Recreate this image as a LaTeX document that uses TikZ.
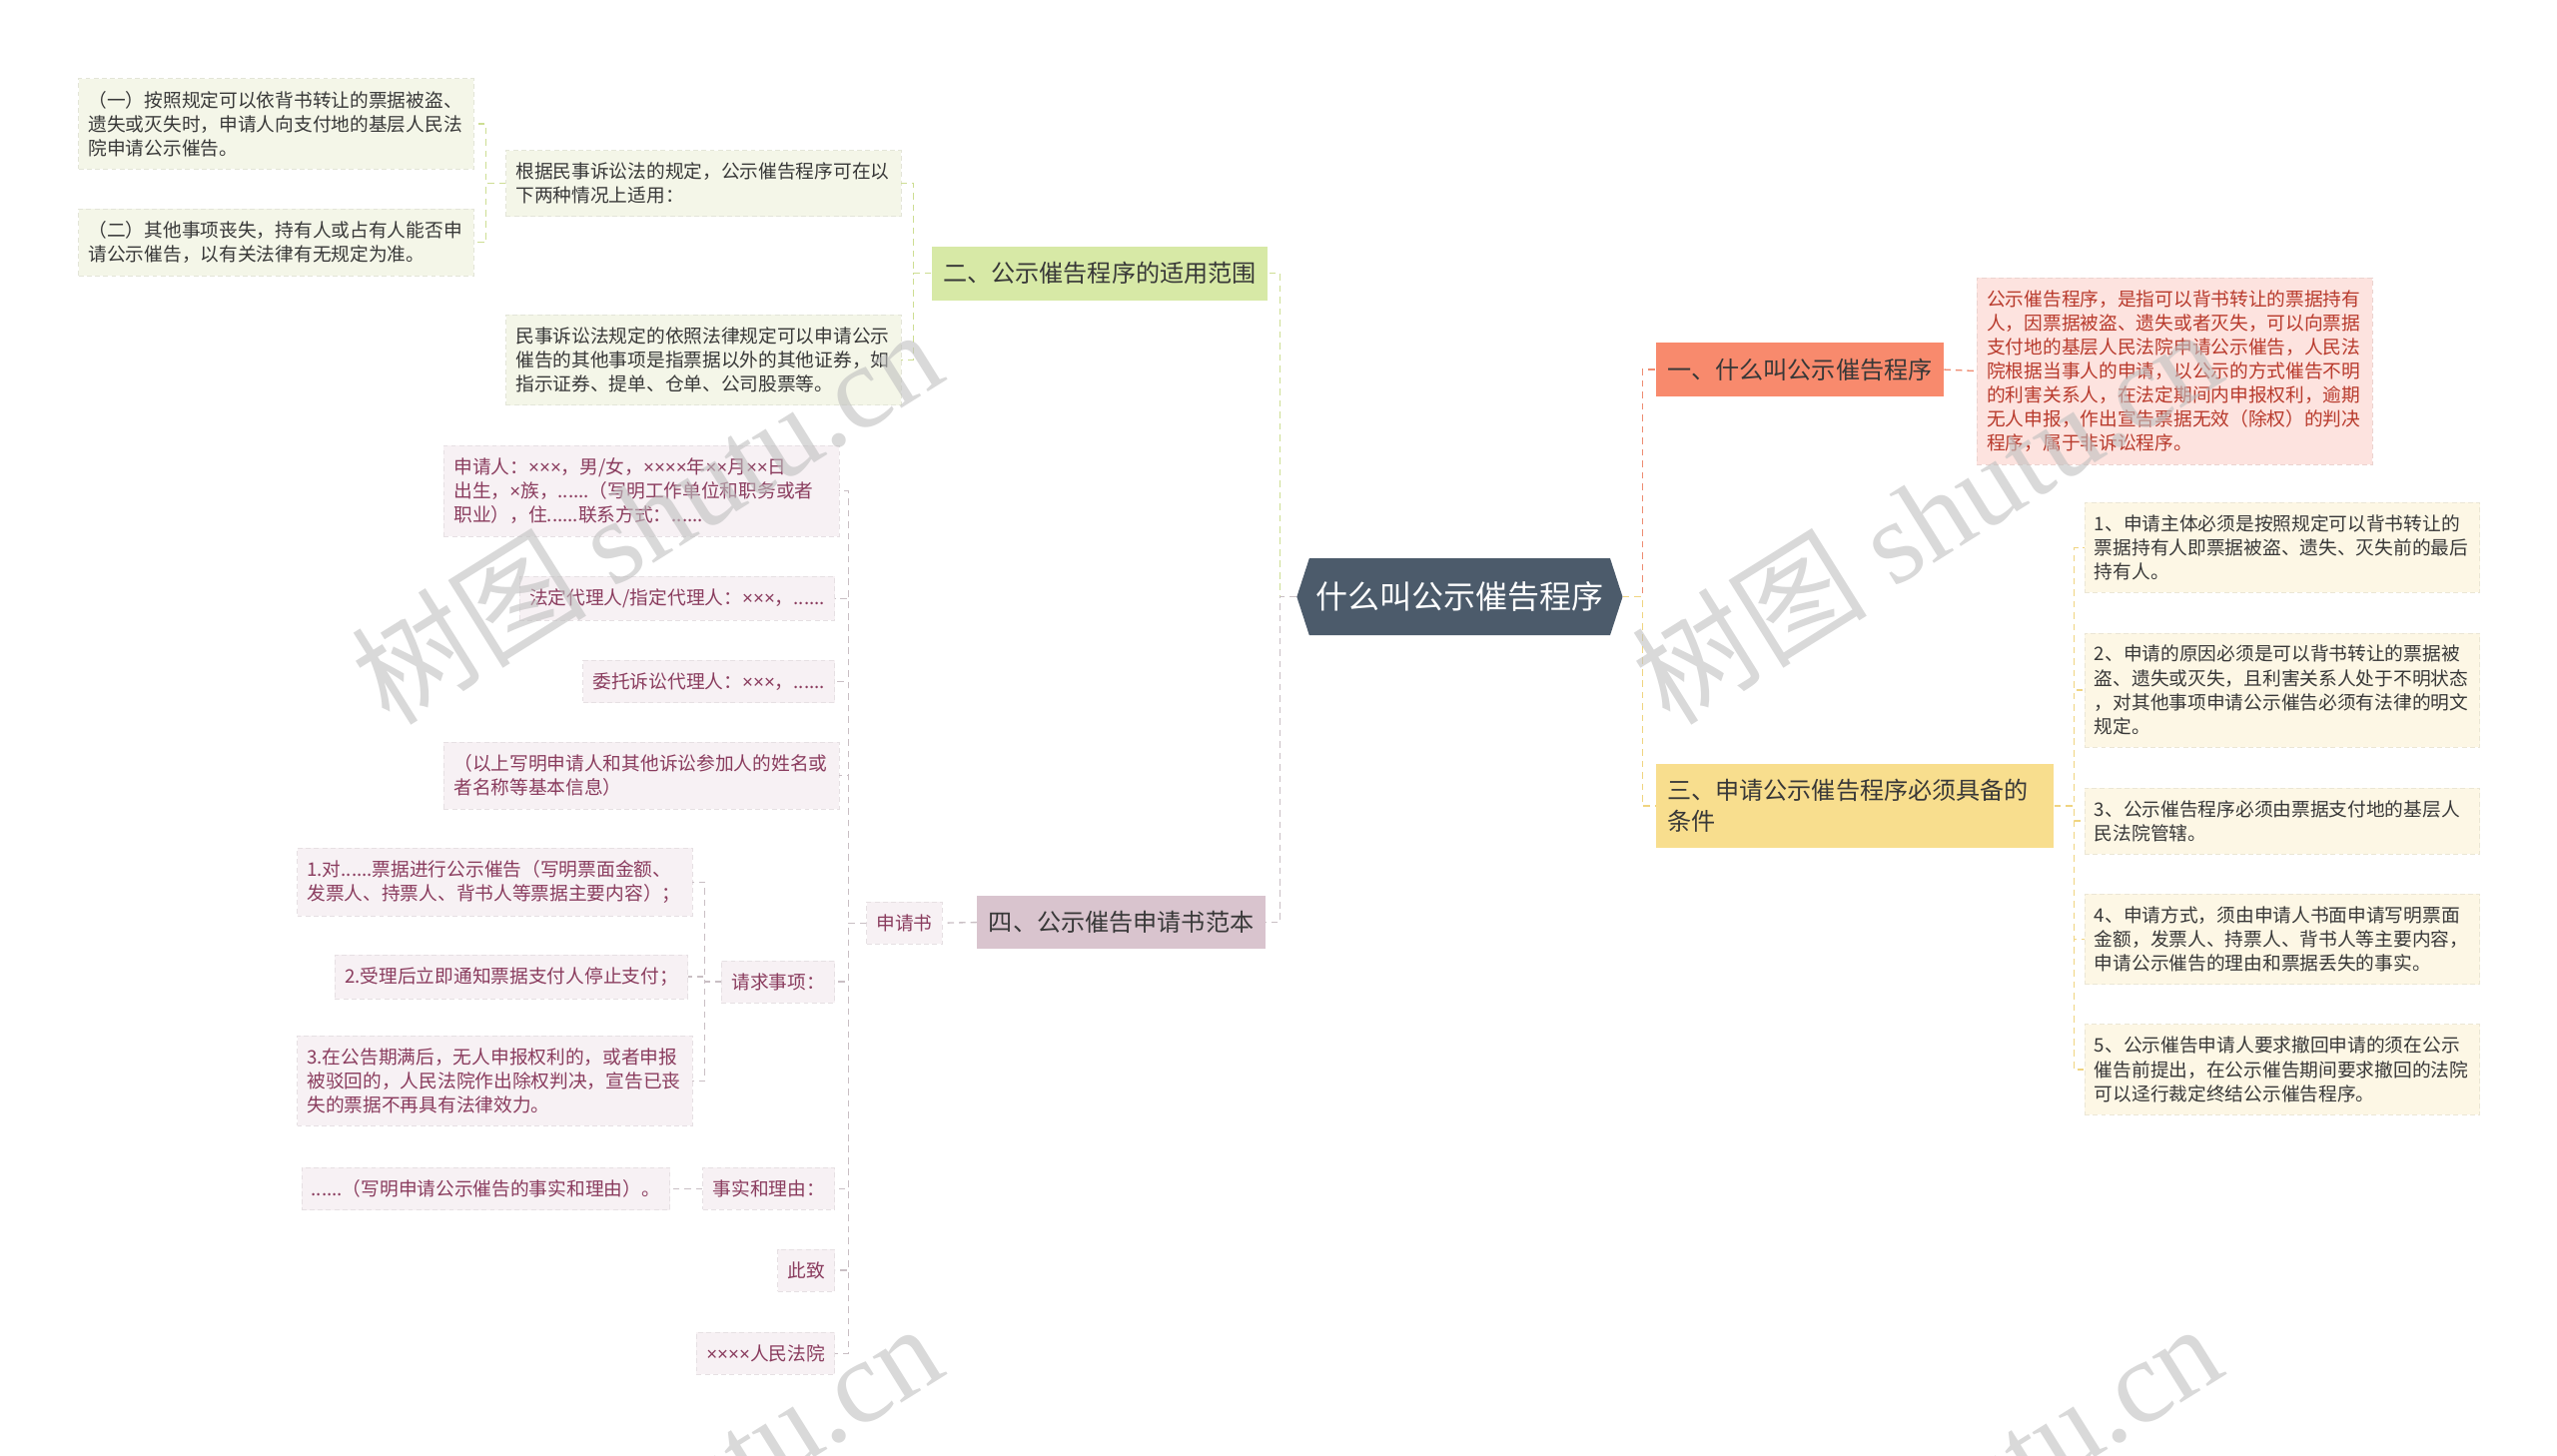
\documentclass[tikz,border=0pt]{standalone}
\usepackage{fontspec}
\setmainfont{Noto Sans CJK SC}
\newfontfamily\wmfont{Liberation Serif}
\newfontfamily\latfont{Liberation Sans}
\usetikzlibrary{shapes.symbols}

\definecolor{rootfill}{HTML}{4C5B6B}
\definecolor{redfill}{HTML}{F88A6D}
\definecolor{redleaf}{HTML}{FDE3DF}
\definecolor{redtext}{HTML}{B83A2C}
\definecolor{redline}{HTML}{EE8C72}
\definecolor{yelfill}{HTML}{F8DE8E}
\definecolor{yelleaf}{HTML}{FDF7E5}
\definecolor{yelline}{HTML}{F0D480}
\definecolor{grnfill}{HTML}{D7E9A6}
\definecolor{grnleaf}{HTML}{F4F6E8}
\definecolor{grnline}{HTML}{CDDE93}
\definecolor{mauvefill}{HTML}{D9C4CE}
\definecolor{mauveleaf}{HTML}{F7F1F4}
\definecolor{mauvetext}{HTML}{8A3C5E}
\definecolor{mauveline}{HTML}{C9BFC4}
\definecolor{darktext}{HTML}{383838}

% narrow multiplication sign
\def\xm{{\latfont ×}}

\tikzset{
  leaf/.style={inner xsep=6pt, inner ysep=7.5pt, align=left,
    font=\fontsize{11.4}{14.7}\selectfont},
  wide/.style={text width=229pt, anchor=north west},
  branch/.style={inner xsep=7pt, inner ysep=9.5pt, align=left, anchor=north west,
    text=darktext, font=\fontsize{14.7}{19}\selectfont},
  gleaf/.style={leaf, fill=grnleaf, draw=grnleaf!93!black, densely dashed, text=darktext},
  yleaf/.style={leaf, fill=yelleaf, draw=yelleaf!93!black, densely dashed, text=darktext},
  rleaf/.style={leaf, fill=redleaf, draw=redleaf!93!black, densely dashed, text=redtext},
  mleaf/.style={leaf, fill=mauveleaf, draw=mauveleaf!93!black, densely dashed, text=mauvetext},
  conn/.style={line width=0.8pt, dash pattern=on 4pt off 3pt},
  gconn/.style={conn, draw=grnline},
  yconn/.style={conn, draw=yelline},
  rconn/.style={conn, draw=redline},
  mconn/.style={conn, draw=mauveline},
  wm/.style={rotate=32, text=gray!50, opacity=0.6, font=\fontsize{72}{72}\selectfont}
}

\begin{document}
\begin{tikzpicture}[x=0.995pt, y=-0.995pt]
\useasboundingbox (0,0) rectangle (1567.8,892.5);
\clip (0,0) rectangle (1567.8,892.5);

% root
\node[signal, signal to=west and east, signal pointer angle=144, fill=rootfill,
  text=white, font=\fontsize{19.5}{22}\selectfont, minimum height=47pt,
  minimum width=196pt, inner xsep=4pt] (root) at (895,366) {什么叫公示催告程序};

% branches
\node[branch, fill=redfill] (b1) at (1015,210) {一、什么叫公示催告程序};
\node[branch, fill=grnfill] (b2) at (571,151) {二、公示催告程序的适用范围};
\node[branch, fill=yelfill, text width=229pt] (b3) at (1015,468) {三、申请公示催告程序必须具备的\\条件};
\node[branch, fill=mauvefill] (b4) at (599,549) {四、公示催告申请书范本};

% 一
\node[rleaf, wide] (d1) at (1212,170) {公示催告程序，是指可以背书转让的票据持有\\人，因票据被盗、遗失或者灭失，可以向票据\\支付地的基层人民法院申请公示催告，人民法\\院根据当事人的申请，以公示的方式催告不明\\的利害关系人，在法定期间内申报权利，逾期\\无人申报，作出宣告票据无效（除权）的判决\\程序，属于非诉讼程序。};

% 二
\node[gleaf, wide] (g1) at (310,92) {根据民事诉讼法的规定，公示催告程序可在以\\下两种情况上适用：};
\node[gleaf, wide] (g2) at (310,193) {民事诉讼法规定的依照法律规定可以申请公示\\催告的其他事项是指票据以外的其他证券，如\\指示证券、提单、仓单、公司股票等。};
\node[gleaf, wide] (g11) at (48,48) {（一）按照规定可以依背书转让的票据被盗、\\遗失或灭失时，申请人向支付地的基层人民法\\院申请公示催告。};
\node[gleaf, wide] (g12) at (48,128) {（二）其他事项丧失，持有人或占有人能否申\\请公示催告，以有关法律有无规定为准。};

% 三
\node[yleaf, wide] (c1) at (1278,308) {1、申请主体必须是按照规定可以背书转让的\\票据持有人即票据被盗、遗失、灭失前的最后\\持有人。};
\node[yleaf, wide] (c2) at (1278,388) {2、申请的原因必须是可以背书转让的票据被\\盗、遗失或灭失，且利害关系人处于不明状态\\，对其他事项申请公示催告必须有法律的明文\\规定。};
\node[yleaf, wide] (c3) at (1278,483) {3、公示催告程序必须由票据支付地的基层人\\民法院管辖。};
\node[yleaf, wide] (c4) at (1278,548) {4、申请方式，须由申请人书面申请写明票面\\金额，发票人、持票人、背书人等主要内容，\\申请公示催告的理由和票据丢失的事实。};
\node[yleaf, wide] (c5) at (1278,628) {5、公示催告申请人要求撤回申请的须在公示\\催告前提出，在公示催告期间要求撤回的法院\\可以迳行裁定终结公示催告程序。};

% 四
\node[mleaf, anchor=east] (s1) at (578,566) {申请书};
\node[mleaf, wide] (p1) at (272,273) {申请人：\xm\xm\xm，男/女，\xm\xm\xm\xm 年\xm\xm 月\xm\xm 日\\出生，\xm 族，......（写明工作单位和职务或者\\职业），住......联系方式：......};
\node[mleaf, anchor=east] (p2) at (512,367) {法定代理人/指定代理人：\xm\xm\xm，......};
\node[mleaf, anchor=east] (p3) at (512,418) {委托诉讼代理人：\xm\xm\xm，......};
\node[mleaf, wide] (p4) at (272,455) {（以上写明申请人和其他诉讼参加人的姓名或\\者名称等基本信息）};
\node[mleaf, anchor=east] (p5) at (512,602) {请求事项：};
\node[mleaf, anchor=east] (p6) at (512,729) {事实和理由：};
\node[mleaf, anchor=east] (p7) at (512,779) {此致};
\node[mleaf, anchor=east] (p8) at (512,830) {\xm\xm\xm\xm 人民法院};
\node[mleaf, wide] (q1) at (182,520) {1.对......票据进行公示催告（写明票面金额、\\发票人、持票人、背书人等票据主要内容）；};
\node[mleaf, anchor=east] (q2) at (422,599) {2.受理后立即通知票据支付人停止支付；};
\node[mleaf, wide] (q3) at (182,635) {3.在公告期满后，无人申报权利的，或者申报\\被驳回的，人民法院作出除权判决，宣告已丧\\失的票据不再具有法律效力。};
\node[mleaf, anchor=east] (r1) at (411,729) {......（写明申请公示催告的事实和理由）。};

% connectors
\draw[gconn] (root.west) -- ++(-10,0) |- (b2.east);
\draw[mconn] (root.west) -- ++(-10,0) |- (b4.east);
\draw[rconn] (root.east) -- ++(12,0) |- (b1.west);
\draw[yconn] (root.east) -- ++(12,0) |- (b3.west);

\draw[rconn] (b1.east) -- (d1.west);

\foreach \i in {1,2}
  \draw[gconn] (b2.west) -- ++(-11,0) |- (g\i.east);
\foreach \i in {11,12}
  \draw[gconn] (g1.west) -- ++(-12,0) |- (g\i.east);

\foreach \i in {1,...,5}
  \draw[yconn] (b3.east) -- ++(12,0) |- (c\i.west);

\draw[mconn] (b4.west) -- (s1.east);
\foreach \i in {1,...,8}
  \draw[mconn] (s1.west) -- ++(-11,0) |- (p\i.east);
\foreach \i in {1,2,3}
  \draw[mconn] (p5.west) -- ++(-10,0) |- (q\i.east);
\draw[mconn] (p6.west) -- (r1.east);

% watermark
\foreach \wx/\wy in {396/316, 1181/316, 396/926, 1181/926}
  \node[wm] at (\wx,\wy) {树图 {\wmfont shutu.cn}};

\end{tikzpicture}
\end{document}
